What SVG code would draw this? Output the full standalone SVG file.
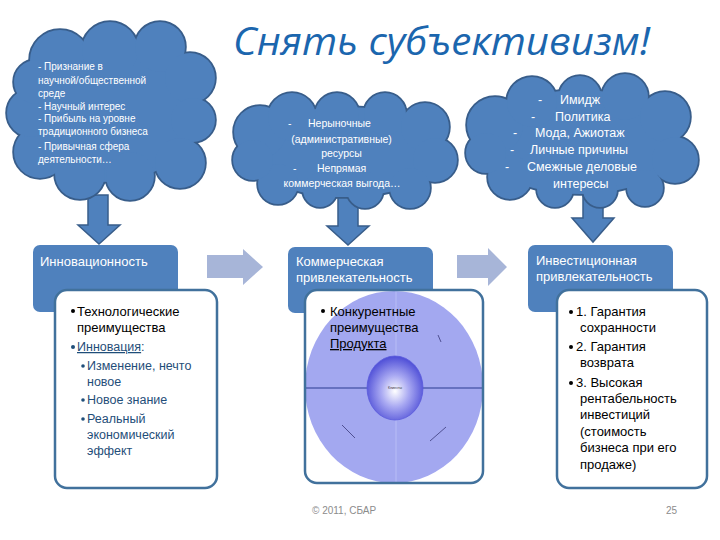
<svg xmlns="http://www.w3.org/2000/svg" width="720" height="540" viewBox="0 0 720 540">
<style>
.cs{fill:none;stroke:#385D8A;stroke-width:3.5}
.cf{fill:#4F81BD;stroke:none}
.ct{font-family:"Liberation Sans",Arial,sans-serif;fill:#fff}
.hd{fill:#4F81BD}
.ht{font-family:"Liberation Sans",Arial,sans-serif;font-size:13px;fill:#fff}
.wb{fill:#fff;stroke:#41719C;stroke-width:2.5}
.bt{font-family:"Liberation Sans",Arial,sans-serif;font-size:13px;fill:#000}
.sb{font-family:"Liberation Sans",Arial,sans-serif;font-size:12.5px;fill:#1F4E79}
.da{fill:#4F81BD;stroke:#385D8A;stroke-width:1.5}
.ra{fill:#A7B5D8}
.ft{font-family:"Liberation Sans",Arial,sans-serif;font-size:10px;fill:#8C8C8C}
</style>
<defs>
<radialGradient id="sph" cx="50%" cy="55%" r="55%">
<stop offset="0" stop-color="#FFFFFF"/>
<stop offset="0.45" stop-color="#A9A9F2"/>
<stop offset="1" stop-color="#4C4CD6"/>
</radialGradient>
<clipPath id="midclip"><rect x="305" y="290" width="178" height="193" rx="12"/></clipPath>
</defs>

<text x="233" y="55" font-family="'Open Sans','Noto Sans',sans-serif" font-style="italic" font-size="38" fill="#1B66AE" textLength="417" lengthAdjust="spacingAndGlyphs">Снять субъективизм!</text>

<g id="connectors">
<polygon class="da" points="88,195 108,195 108,225 120,225 99,244 78,225 88,225"/>
<polygon class="da" points="338,195 358,195 358,226 369,226 348,245 327,226 338,226"/>
<polygon class="da" points="583,195 603,195 603,218 614,218 593,242 572,218 583,218"/>
<polygon class="ra" points="207,255 243,255 243,249 263,267 243,285 243,278 207,278"/>
<polygon class="ra" points="457,255 488,255 488,248 507,267 488,286 488,278 457,278"/>
</g>

<g id="cloud-left">
<g class="cs">
<ellipse cx="110" cy="112" rx="85" ry="70"/>
<circle cx="60" cy="60" r="30"/><circle cx="110" cy="50" r="28"/><circle cx="160" cy="47" r="25"/>
<circle cx="190" cy="78" r="25"/><circle cx="193" cy="120" r="22"/><circle cx="180" cy="163" r="25"/>
<circle cx="130" cy="176" r="24"/><circle cx="80" cy="174" r="25"/><circle cx="40" cy="152" r="26"/>
<circle cx="31" cy="113" r="24"/><circle cx="36" cy="82" r="22"/>
</g>
<g class="cf">
<ellipse cx="110" cy="112" rx="85" ry="70"/>
<circle cx="60" cy="60" r="30"/><circle cx="110" cy="50" r="28"/><circle cx="160" cy="47" r="25"/>
<circle cx="190" cy="78" r="25"/><circle cx="193" cy="120" r="22"/><circle cx="180" cy="163" r="25"/>
<circle cx="130" cy="176" r="24"/><circle cx="80" cy="174" r="25"/><circle cx="40" cy="152" r="26"/>
<circle cx="31" cy="113" r="24"/><circle cx="36" cy="82" r="22"/>
</g>
<text class="ct" font-size="10">
<tspan x="38" y="70">- Признание в</tspan>
<tspan x="38" y="84">научной/общественной</tspan>
<tspan x="38" y="97">среде</tspan>
<tspan x="38" y="110">- Научный интерес</tspan>
<tspan x="38" y="122">- Прибыль на уровне</tspan>
<tspan x="38" y="135">традиционного бизнеса</tspan>
<tspan x="38" y="150">- Привычная сфера</tspan>
<tspan x="38" y="163">деятельности…</tspan>
</text>
</g>

<g id="cloud-middle">
<g class="cs">
<ellipse cx="345" cy="152" rx="95" ry="45"/>
<circle cx="260" cy="132" r="26"/><circle cx="292" cy="117" r="24"/><circle cx="337" cy="115" r="22"/>
<circle cx="385" cy="114" r="21"/><circle cx="425" cy="127" r="24"/><circle cx="435" cy="160" r="22"/>
<circle cx="410" cy="188" r="20"/><circle cx="365" cy="190" r="18"/><circle cx="320" cy="190" r="17"/>
<circle cx="278" cy="184" r="20"/><circle cx="253" cy="160" r="20"/>
</g>
<g class="cf">
<ellipse cx="345" cy="152" rx="95" ry="45"/>
<circle cx="260" cy="132" r="26"/><circle cx="292" cy="117" r="24"/><circle cx="337" cy="115" r="22"/>
<circle cx="385" cy="114" r="21"/><circle cx="425" cy="127" r="24"/><circle cx="435" cy="160" r="22"/>
<circle cx="410" cy="188" r="20"/><circle cx="365" cy="190" r="18"/><circle cx="320" cy="190" r="17"/>
<circle cx="278" cy="184" r="20"/><circle cx="253" cy="160" r="20"/>
</g>
<text class="ct" font-size="10.5">
<tspan x="288" y="127">-</tspan><tspan x="308" y="127">Нерыночные</tspan>
<tspan x="343" y="143" text-anchor="middle">(административные)</tspan>
<tspan x="343" y="157" text-anchor="middle">ресурсы</tspan>
<tspan x="293" y="172">-</tspan><tspan x="317" y="172">Непрямая</tspan>
<tspan x="342" y="187" text-anchor="middle">коммерческая выгода…</tspan>
</text>
</g>

<g id="cloud-right">
<g class="cs">
<ellipse cx="580" cy="142" rx="100" ry="52"/>
<circle cx="495" cy="125" r="28"/><circle cx="532" cy="102" r="25"/><circle cx="580" cy="97" r="21"/>
<circle cx="625" cy="97" r="23"/><circle cx="665" cy="117" r="25"/><circle cx="675" cy="160" r="23"/>
<circle cx="645" cy="188" r="18"/><circle cx="600" cy="190" r="17"/><circle cx="555" cy="189" r="18"/>
<circle cx="510" cy="177" r="22"/><circle cx="486" cy="153" r="20"/>
</g>
<g class="cf">
<ellipse cx="580" cy="142" rx="100" ry="52"/>
<circle cx="495" cy="125" r="28"/><circle cx="532" cy="102" r="25"/><circle cx="580" cy="97" r="21"/>
<circle cx="625" cy="97" r="23"/><circle cx="665" cy="117" r="25"/><circle cx="675" cy="160" r="23"/>
<circle cx="645" cy="188" r="18"/><circle cx="600" cy="190" r="17"/><circle cx="555" cy="189" r="18"/>
<circle cx="510" cy="177" r="22"/><circle cx="486" cy="153" r="20"/>
</g>
<text class="ct" font-size="12.5">
<tspan x="538" y="104">-</tspan><tspan x="560" y="104">Имидж</tspan>
<tspan x="531" y="121">-</tspan><tspan x="555" y="121">Политика</tspan>
<tspan x="513" y="137">-</tspan><tspan x="535" y="137">Мода, Ажиотаж</tspan>
<tspan x="510" y="154">-</tspan><tspan x="530" y="154">Личные причины</tspan>
<tspan x="505" y="171">-</tspan><tspan x="527" y="171">Смежные деловые</tspan>
<tspan x="553" y="188">интересы</tspan>
</text>
</g>

<g id="node-innov">
<rect class="hd" x="33" y="245" width="145" height="67" rx="7"/>
<text class="ht" x="40" y="266">Инновационность</text>
<rect class="wb" x="55" y="290" width="162" height="198" rx="12"/>
<circle cx="73" cy="311" r="2"/>
<text class="bt"><tspan x="77" y="316">Технологические</tspan><tspan x="77" y="332">преимущества</tspan></text>
<circle cx="73" cy="347" r="2" fill="#1F4E79"/>
<text class="sb" x="77" y="351"><tspan text-decoration="underline">Инновация</tspan>:</text>
<circle cx="83" cy="366" r="1.8" fill="#1F4E79"/>
<circle cx="83" cy="400" r="1.8" fill="#1F4E79"/>
<circle cx="83" cy="419" r="1.8" fill="#1F4E79"/>
<text class="sb">
<tspan x="87" y="370">Изменение, нечто</tspan>
<tspan x="87" y="386">новое</tspan>
<tspan x="87" y="404">Новое знание</tspan>
<tspan x="87" y="423">Реальный</tspan>
<tspan x="87" y="439">экономический</tspan>
<tspan x="87" y="455">эффект</tspan>
</text>
</g>

<g id="node-commerce">
<rect class="hd" x="288" y="247" width="145" height="66" rx="7"/>
<text class="ht"><tspan x="296" y="266">Коммерческая</tspan><tspan x="296" y="282">привлекательность</tspan></text>
<rect x="305" y="290" width="178" height="193" rx="12" fill="#fff"/>
<g clip-path="url(#midclip)">
<ellipse cx="394" cy="387" rx="89" ry="96" fill="#A3A8F0"/>
<line x1="396" y1="291" x2="396" y2="483" stroke="#B8BDF6" stroke-width="1"/>
<line x1="305" y1="388" x2="483" y2="388" stroke="#2B3A8F" stroke-width="1.2"/>
<ellipse cx="395" cy="388" rx="28" ry="32" fill="url(#sph)" stroke="#5A5ADC" stroke-width="0.8"/>
<text x="395" y="389" font-family="'Liberation Sans',Arial,sans-serif" font-size="3.5" fill="#333" text-anchor="middle">Клиенты</text>
<line x1="438" y1="335" x2="441" y2="342" stroke="#3A3A7A" stroke-width="0.8"/>
<line x1="342" y1="425" x2="355" y2="438" stroke="#3A3A7A" stroke-width="0.8"/>
<line x1="430" y1="441" x2="446" y2="427" stroke="#3A3A7A" stroke-width="0.8"/>
</g>
<rect x="305" y="290" width="178" height="193" rx="12" fill="none" stroke="#41719C" stroke-width="2.5"/>
<circle cx="323" cy="311" r="2"/>
<text class="bt"><tspan x="330" y="316">Конкурентные</tspan><tspan x="330" y="332">преимущества</tspan><tspan x="330" y="348" text-decoration="underline">Продукта</tspan></text>
</g>

<g id="node-invest">
<rect class="hd" x="528" y="245" width="145" height="67" rx="7"/>
<text class="ht"><tspan x="536" y="265">Инвестиционная</tspan><tspan x="536" y="281">привлекательность</tspan></text>
<rect class="wb" x="557" y="290" width="150" height="198" rx="12"/>
<circle cx="571" cy="312" r="2"/><circle cx="571" cy="347" r="2"/><circle cx="571" cy="383" r="2"/>
<text class="bt">
<tspan x="576" y="316">1. Гарантия</tspan>
<tspan x="580" y="332">сохранности</tspan>
<tspan x="576" y="351">2. Гарантия</tspan>
<tspan x="580" y="367">возврата</tspan>
<tspan x="576" y="387">3. Высокая</tspan>
<tspan x="580" y="403">рентабельность</tspan>
<tspan x="580" y="419">инвестиций</tspan>
<tspan x="580" y="436">(стоимость</tspan>
<tspan x="580" y="452">бизнеса при его</tspan>
<tspan x="580" y="469">продаже)</tspan>
</text>
</g>

<text class="ft" x="312" y="514">© 2011, СБАР</text>
<text class="ft" x="666" y="514">25</text>
</svg>
